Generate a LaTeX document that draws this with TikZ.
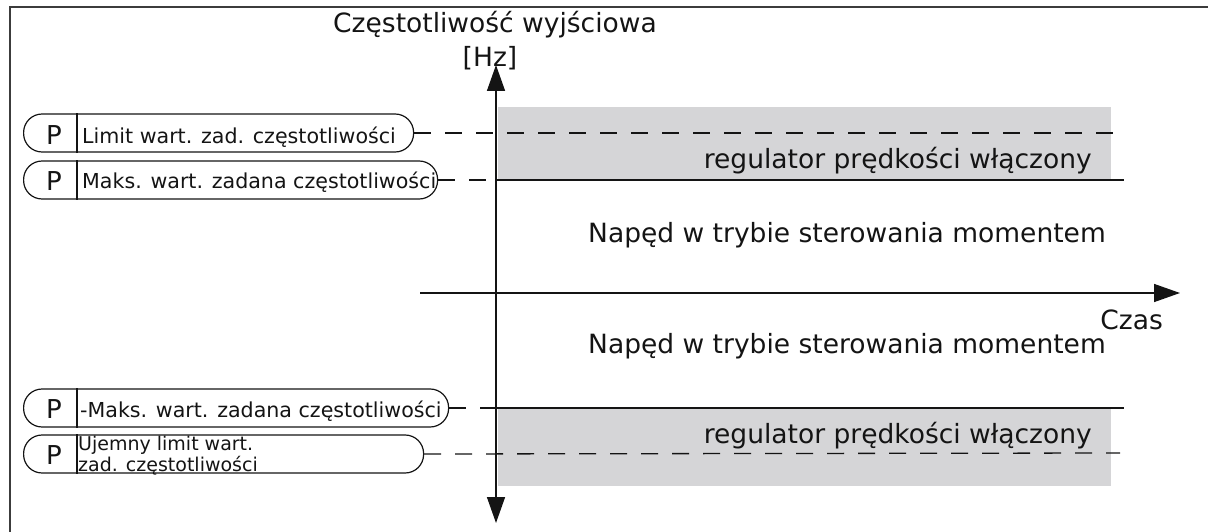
\documentclass[tikz,border=0pt]{standalone}
\usepackage{fontspec}
\setmainfont{DejaVu Sans}
\usetikzlibrary{arrows.meta,calc}
\definecolor{zonegray}{RGB}{213,213,215}
\definecolor{framegray}{RGB}{60,60,60}
\definecolor{ink}{RGB}{20,20,20}
\tikzset{
  bigtext/.style={inner sep=0pt, text=ink, font=\fontsize{26.5}{30}\selectfont},
  pilltext/.style={inner sep=0pt, text=ink, font=\fontsize{20.6}{24}\selectfont},
  smalltext/.style={inner sep=0pt, text=ink, align=left, font=\fontsize{19}{15}\selectfont},
  pletter/.style={inner sep=0pt, text=ink, font=\fontsize{26}{30}\selectfont},
  pill/.style={draw=ink, line width=1.2pt, rounded corners=18.5pt, minimum height=38pt, inner sep=0pt, anchor=west},
  divider/.style={draw=ink, line width=1.2pt},
  dashline/.style={draw=ink, line width=1.3pt, dash pattern=on 17pt off 14pt},
  solidline/.style={draw=ink, line width=1.3pt},
  axis/.style={draw=ink, line width=1.5pt, arrows={-Triangle[length=26pt,width=18pt]}},
  zone/.style={fill=zonegray, draw=none},
}
\begin{document}
\begin{tikzpicture}[x=1pt,y=-1pt]
\useasboundingbox (0,0) rectangle (1208,532);
% frame
\draw[framegray, line width=2pt] (10,532) -- (10,7) -- (1208,7);
% gray zones
\fill[zone] (498,107) rectangle (1111,180);
\fill[zone] (498,408) rectangle (1111,486);
% end coordinates
\coordinate (e1) at (1124,133);
\coordinate (e2) at (1124,180);
\coordinate (a2) at (496,180);
\coordinate (e3) at (1124,408);
\coordinate (a3) at (496,408);
\coordinate (e4) at (1120,453);
% pills
\node[pill, minimum width=390pt] (p1) at (23,133) {};
\node[pill, minimum width=414pt] (p2) at (23,180) {};
\node[pill, minimum width=425pt] (p3) at (23,408) {};
\node[pill, minimum width=400pt] (p4) at (23,454) {};
\foreach \p in {p1,p2,p3,p4}{
  \draw[divider] ($(\p.north west)+(54,0)$) -- ($(\p.south west)+(54,0)$);
}
\node[pletter, anchor=base] (P1) at (54,145) {P};
\node[pletter, anchor=base] (P2) at (54,190) {P};
\node[pletter, anchor=base] (P3) at (54,418) {P};
\node[pletter, anchor=base] (P4) at (54,464) {P};
\node[pilltext, anchor=base west] (t1) at (82,144) {Limit wart. zad. częstotliwości};
\node[pilltext, anchor=base west] (t2) at (82,189) {Maks. wart. zadana częstotliwości};
\node[pilltext, anchor=base west] (t3) at (80,417) {-Maks. wart. zadana częstotliwości};
\node[smalltext, anchor=base west] (t4) at (78,471) {Ujemny limit wart.\\zad. częstotliwości};
% level lines
\draw[dashline] (p1.east) -- (e1);
\draw[dashline] (p2.east) -- (a2);
\draw[solidline] (a2) -- (e2);
\draw[dashline] (p3.east) -- (a3);
\draw[solidline] (a3) -- (e3);
\draw[dashline] (p4.east) -- (e4);
% axes
\coordinate (ytop) at (496,65);
\coordinate (ybot) at (496,523);
\coordinate (xs) at (420,293);
\coordinate (xe) at (1180,293);
\draw[axis, arrows={Triangle[length=26pt,width=18pt]-Triangle[length=26pt,width=18pt]}] (ybot) -- (ytop);
\draw[axis] (xs) -- (xe);
% texts
\node[bigtext, anchor=base] (ylab) at (495,33) {Częstotliwość wyjściowa};
\node[bigtext, anchor=base] (yunit) at (490,66.5) {[Hz]};
\node[bigtext, anchor=base east] (xlab) at (1163,329) {Czas};
\node[bigtext, anchor=base east] (r1) at (1092,169) {regulator prędkości włączony};
\node[bigtext, anchor=base east] (r2) at (1092,443) {regulator prędkości włączony};
\node[bigtext, anchor=base west] (n1) at (588,242) {Napęd w trybie sterowania momentem};
\node[bigtext, anchor=base west] (n2) at (588,353) {Napęd w trybie sterowania momentem};
\end{tikzpicture}
\end{document}
